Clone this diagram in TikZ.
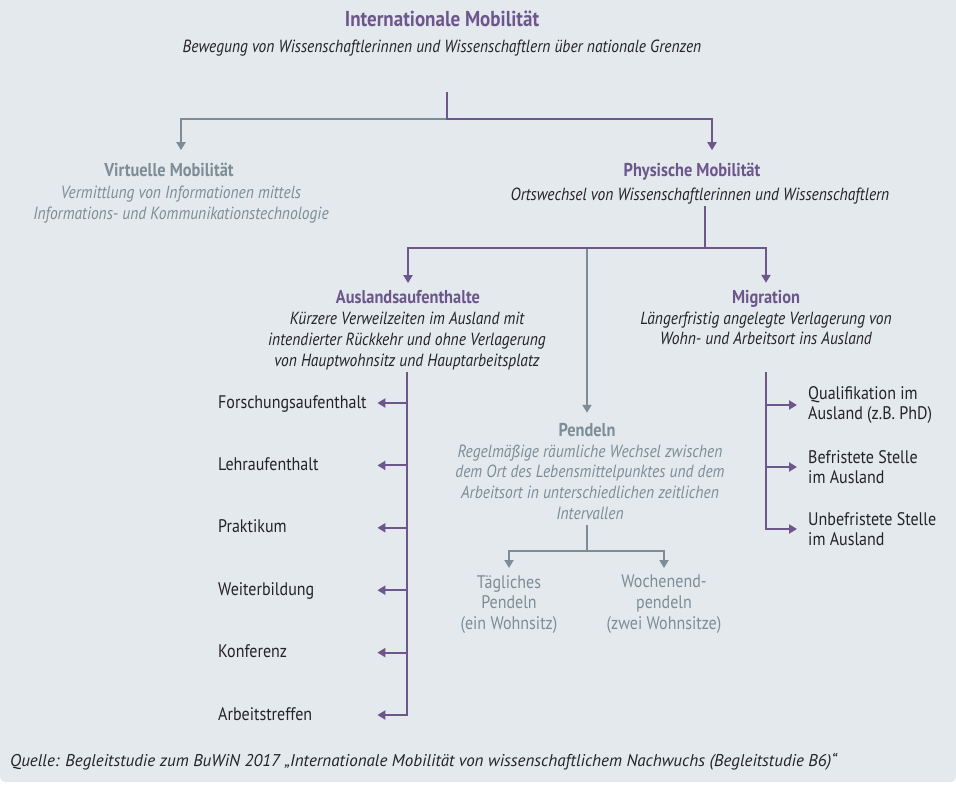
\documentclass[tikz,border=0pt]{standalone}
\usepackage{fontspec}
\setmainfont{PT Sans}[FakeStretch=0.88]
\newfontfamily\srcfont{PT Sans}
\usepackage{tikz}
\usetikzlibrary{positioning,arrows.meta}

\definecolor{purp}{RGB}{108,86,140}
\definecolor{slate}{RGB}{124,141,151}
\definecolor{panel}{RGB}{228,233,237}
\definecolor{ink}{RGB}{35,35,40}

\tikzset{
  head/.style={font=\bfseries\fontsize{18.6}{21}\selectfont, inner sep=0pt, text height=13pt, text depth=4pt, anchor=base},
  desc/.style={font=\itshape\fontsize{17.6}{20.7}\selectfont, align=center, inner sep=0pt, text=ink, anchor=north, execute at begin node=\strut},
  item/.style={font=\fontsize{18.2}{20.7}\selectfont, inner sep=0pt, text=ink, anchor=west, align=left},
  listitem/.style={item, text width=148pt, text height=13pt, text depth=3pt},
  pline/.style={draw=purp, line width=2pt, line cap=rect},
  gline/.style={draw=slate, line width=2pt, line cap=rect},
  arr/.style={-{Triangle[length=8pt,width=9pt]}},
}

\begin{document}
\begin{tikzpicture}[x=1pt,y=-1pt]
  \useasboundingbox (0,0) rectangle (956,787);
  \fill[white] (0,0) rectangle (956,787);
  \fill[panel, rounded corners=5pt] (0,-10) rectangle (956,782);

  % oberste Ebene
  \node[head, font=\bfseries\fontsize{21.6}{24}\selectfont, text=purp] (im) at (442,26) {Internationale Mobilität};
  \node[desc] (imd) at (442,37.5) {Bewegung von Wissenschaftlerinnen und Wissenschaftlern über nationale Grenzen};
  \coordinate (j0) at (447,93);
  \coordinate (j1) at (447,119);

  % virtuell / physisch
  \node[head, text=slate] (vm) at (169,176.7) {Virtuelle Mobilität};
  \node[desc, text=slate] (vmd) at (181,186.2) {Vermittlung von Informationen mittels\\Informations- und Kommunikationstechnologie};
  \node[head, text=purp] (pm) at (692,176.7) {Physische Mobilität};
  \node[desc] (pmd) at (700,186.2) {Ortswechsel von Wissenschaftlerinnen und Wissenschaftlern};

  \draw[pline] (j0) -- (j1);
  \draw[gline,arr] (j1) -| ([yshift=36pt]vmd.north);
  \draw[pline,arr] (j1) -| ([xshift=12pt,yshift=36pt]pmd.north);

  % Auslandsaufenthalte, Pendeln, Migration
  \node[head, text=purp] (aa) at (408,303.3) {Auslandsaufenthalte};
  \node[desc] (aad) at (407,312.2) {Kürzere Verweilzeiten im Ausland mit\\intendierter Rückkehr und ohne Verlagerung\\von Hauptwohnsitz und Hauptarbeitsplatz};
  \node[head, text=slate] (pe) at (587,436.7) {Pendeln};
  \node[desc, text=slate] (ped) at (590,444.5) {Regelmäßige räumliche Wechsel zwischen\\dem Ort des Lebensmittelpunktes und dem\\Arbeitsort in unterschiedlichen zeitlichen\\Intervallen};
  \node[head, text=purp] (mi) at (766,303) {Migration};
  \node[desc] (mid) at (766,311.5) {Längerfristig angelegte Verlagerung von\\Wohn- und Arbeitsort ins Ausland};

  \coordinate (j2) at (705,248);
  \draw[pline] (pmd.south -| j2) -- (j2);
  \draw[gline,arr] (pe |- j2) -- ([yshift=10.7pt]pe.north);
  \draw[pline,arr] (j2) -| ([yshift=7pt]aa.north);
  \draw[pline,arr] (j2) -| ([yshift=7pt]mi.north);

  % Formen der Auslandsaufenthalte
  \foreach \txt [count=\i] in {Forschungsaufenthalt,Lehraufenthalt,Praktikum,Weiterbildung,Konferenz,Arbeitstreffen}{
    \node[listitem] (aa\i) at (218,{403+62.4*(\i-1)}) {\txt};
    \draw[pline,arr] (aad.south |- aa\i) -- ([xshift=11pt]aa\i.east);
  }
  \draw[pline] (aad.south) -- (aad.south |- aa6);

  % Formen der Migration
  \node[item] (mq1) at (808,405) {Qualifikation im\\Ausland (z.B. PhD)};
  \node[item] (mq2) at (808,467) {Befristete Stelle\\im Ausland};
  \node[item] (mq3) at (808,529) {Unbefristete Stelle\\im Ausland};
  \draw[pline] (mi |- aad.south) -- (mi |- mq3.west);
  \foreach \i in {1,2,3}{
    \draw[pline,arr] (mi |- mq\i.west) -- ([xshift=-11pt]mq\i.west);
  }

  % Formen des Pendelns
  \node[desc, font=\fontsize{18.2}{20.7}\selectfont, text=slate] (tp) at (509,575) {Tägliches\\Pendeln\\(ein Wohnsitz)};
  \node[desc, font=\fontsize{18.2}{20.7}\selectfont, text=slate] (wp) at (664,575) {Wochenend-\\pendeln\\(zwei Wohnsitze)};
  \coordinate (j3) at (587,551);
  \draw[gline] (ped.south -| j3) -- (j3);
  \draw[gline,arr] (j3) -| ([yshift=7pt]tp.north);
  \draw[gline,arr] (j3) -| ([yshift=7pt]wp.north);

  % Quelle
  \node[item, font=\srcfont\itshape\fontsize{17}{20.7}\selectfont, anchor=base west] (src) at (10,766) {Quelle: Begleitstudie zum BuWiN 2017 „Internationale Mobilität von wissenschaftlichem Nachwuchs (Begleitstudie B6)“};
\end{tikzpicture}
\end{document}
